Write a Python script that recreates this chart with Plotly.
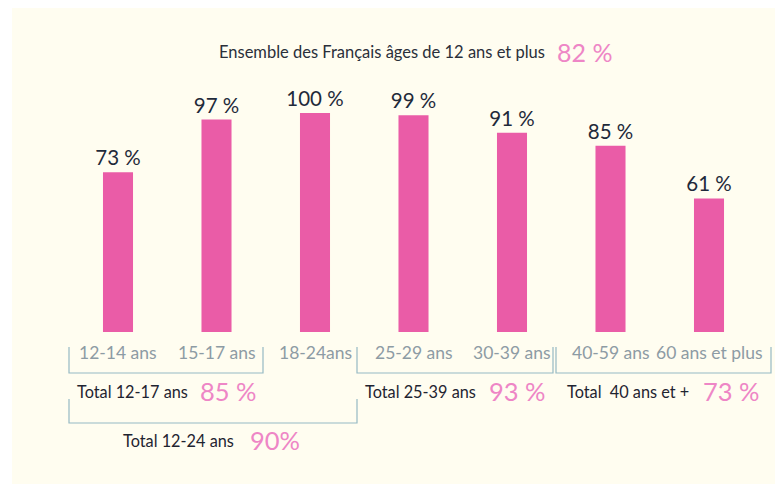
import plotly.graph_objects as go

categories = ["12-14 ans", "15-17 ans", "18-24ans", "25-29 ans", "30-39 ans", "40-59 ans", "60 ans et plus"]
values = [73, 97, 100, 99, 91, 85, 61]

title_text = "Ensemble des Français âges de 12 ans et plus"
title_value = "82 %"
totals = [
    ("Total 12-17 ans", "85 %"),
    ("Total 25-39 ans", "93 %"),
    ("Total  40 ans et +", "73 %"),
    ("Total 12-24 ans", "90%"),
]

# page body has an 8px margin: work in screen pixels and shift
OFF = 8
W, H = 783 - OFF, 484 - OFF
def px(x):
    return (x - OFF) / W
def py(y):
    return 1 - (y - OFF) / H

BAR = "#EA5CA7"
PINK = "#EE86C6"
CREAM = "#FFFDF0"
LINE = "#96BAC4"
FONT = "Lato, Open Sans, sans-serif"

fig = go.Figure()
fig.add_trace(go.Bar(
    x=list(range(len(categories))), y=values,
    marker=dict(color=BAR, line=dict(width=0)),
    width=0.305,
    texttemplate="%{y} %", textposition="outside", constraintext="none",
    textfont=dict(family=FONT, size=20.5, color="#1f2a3a"),
    cliponaxis=False,
    hoverinfo="skip",
))

shapes = [dict(type="rect", xref="paper", yref="paper", x0=px(12), x1=1, y0=0, y1=1,
               fillcolor=CREAM, line=dict(width=0), layer="below")]

def bracket(x0, x1, ytop, ybot):
    return dict(type="path", xref="paper", yref="paper",
                path=f"M {px(x0)} {py(ytop)} L {px(x0)} {py(ybot)} L {px(x1)} {py(ybot)} L {px(x1)} {py(ytop)}",
                line=dict(color=LINE, width=1.2))

shapes += [
    bracket(69, 263, 347, 373),
    bracket(357, 553, 347, 373),
    bracket(556, 771, 347, 373),
    bracket(69, 357, 399, 423),
]

ann = []
def txt(x, y, s, size, color, anchor="left"):
    ann.append(dict(x=px(x), y=py(y), xref="paper", yref="paper", text=s, showarrow=False,
                    xanchor=anchor, yanchor="middle",
                    font=dict(family=FONT, size=size, color=color)))

txt(217, 52, title_text, 16.5, "#2a2f3a")
txt(555, 52, title_value, 25, PINK)

# category labels
for i, c in enumerate(categories):
    ann.append(dict(x=i, y=py(352), xref="x", yref="paper", text=c, showarrow=False,
                    xanchor="center", yanchor="middle",
                    font=dict(family=FONT, size=17.5, color="#8D9BA4")))

pos = [(75, 391, 198), (363, 391, 487), (565, 391, 701), (121, 440, 248)]
for (lab, val), (xl, yy, xv) in zip(totals, pos):
    txt(xl, yy, lab, 16.3, "#1f2430")
    txt(xv, yy, val, 25.5, PINK)

fig.update_layout(
    width=W, height=H,
    margin=dict(l=0, r=0, t=0, b=0),
    paper_bgcolor="white", plot_bgcolor="rgba(0,0,0,0)",
    showlegend=False,
    shapes=shapes, annotations=ann,
    xaxis=dict(domain=[px(68.75), px(758.25)], range=[-0.5, 6.5], showticklabels=False,
               showgrid=False, zeroline=False, showline=False, ticks=""),
    yaxis=dict(domain=[py(332), py(70)], range=[0, (332 - 70) / 2.19], visible=False,
               showgrid=False, zeroline=False),
)

fig.write_html("out.html")
